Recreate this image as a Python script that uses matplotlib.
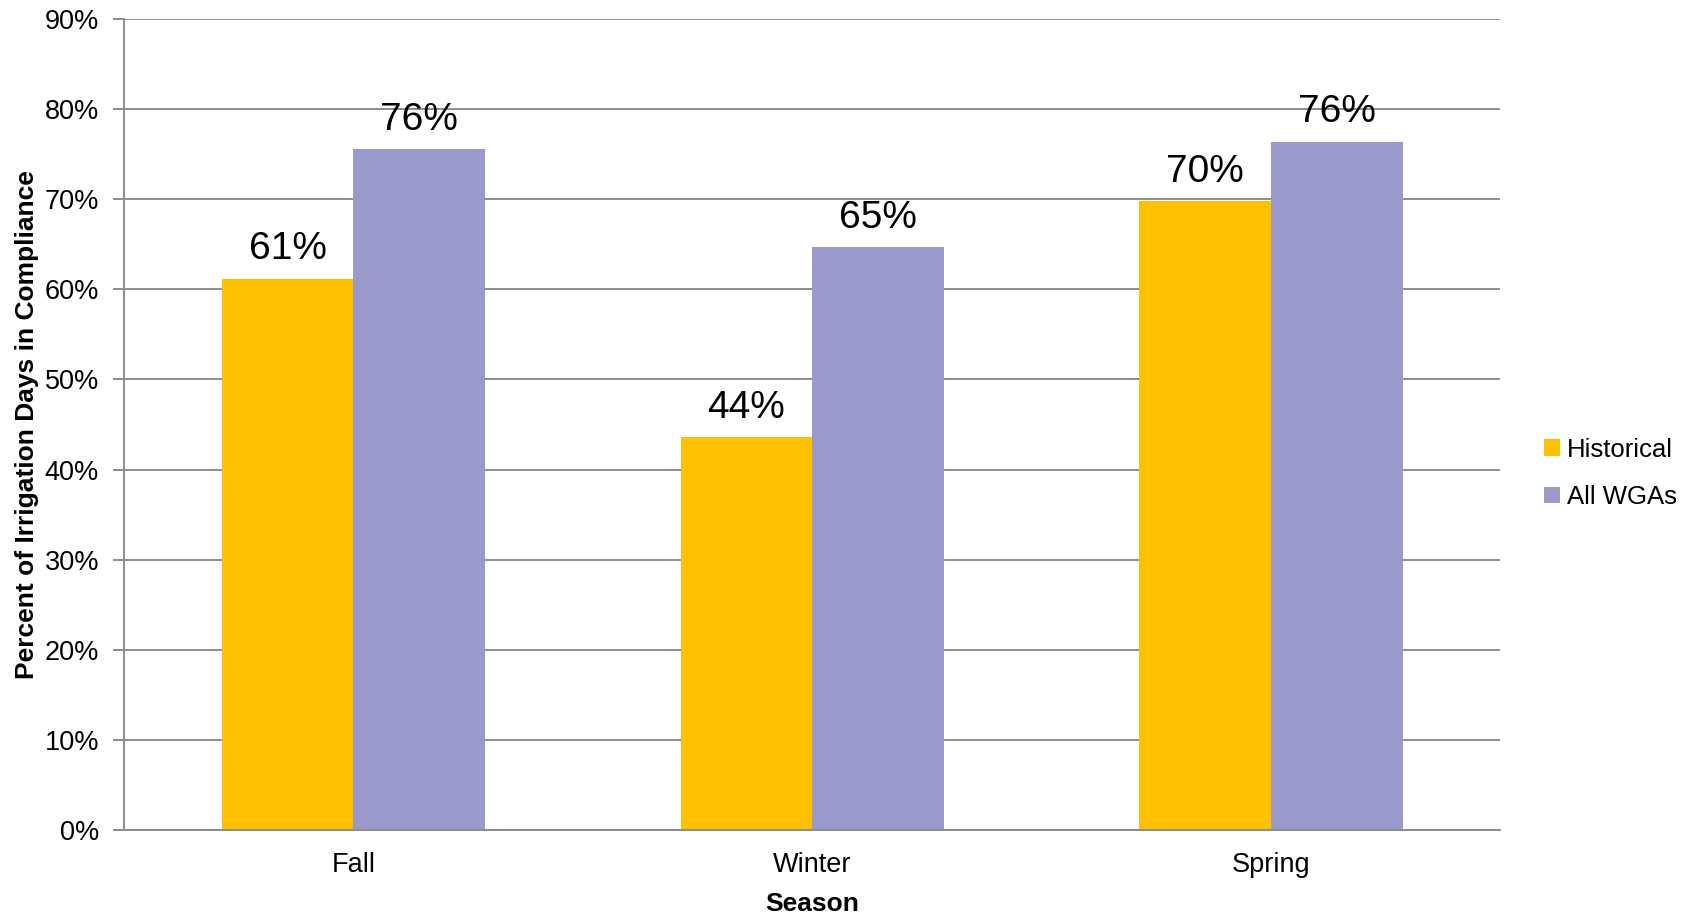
import matplotlib
matplotlib.use("Agg")
import matplotlib.pyplot as plt
import numpy as np
from matplotlib.ticker import FuncFormatter

plt.rcParams['font.family'] = ['Liberation Sans', 'DejaVu Sans']

seasons = ["Fall", "Winter", "Spring"]
historical = [61.2, 43.6, 69.8]
all_wgas = [75.6, 64.7, 76.4]
series_names = ["Historical", "All WGAs"]
colors = ["#FFC000", "#9999CC"]

fig = plt.figure(figsize=(16.92, 9.14), dpi=100)
ax = fig.add_axes([0.0733, 0.0919, 0.8135, 0.8873])

x = np.arange(len(seasons))
w = 0.287
grid_col = "#8C8C8C"

ax.set_axisbelow(True)
ax.yaxis.grid(True, color=grid_col, linewidth=1.4)

b1 = ax.bar(x - w / 2, historical, w, color=colors[0], label=series_names[0])
b2 = ax.bar(x + w / 2, all_wgas, w, color=colors[1], label=series_names[1])

for bars, vals in ((b1, historical), (b2, all_wgas)):
    ax.bar_label(bars, labels=[f"{round(v)}%" for v in vals], padding=8, fontsize=28)

ax.set_xlim(-0.5, 2.5)
ax.set_ylim(0, 90)
ax.set_yticks(np.arange(0, 91, 10))
ax.yaxis.set_major_formatter(FuncFormatter(lambda v, p: f"{int(v)}%"))
ax.set_xticks(x)
ax.set_xticklabels(seasons)

for s in ("top", "right"):
    ax.spines[s].set_visible(False)
for s in ("left", "bottom"):
    ax.spines[s].set_color(grid_col)
    ax.spines[s].set_linewidth(1.4)

ax.tick_params(axis="y", length=8, width=1.4, color=grid_col, labelsize=19.5, pad=10)
ax.tick_params(axis="x", length=0, labelsize=19.5, pad=16)

ax.set_xlabel("Season", fontsize=19, fontweight="bold", labelpad=10)
ax.set_ylabel("Percent of Irrigation Days in Compliance", fontsize=19, fontweight="bold", labelpad=4)

ax.legend(loc="center left", bbox_to_anchor=(1.015, 0.44), frameon=False, fontsize=18.5,
          handlelength=0.6, handleheight=0.6, handletextpad=0.3, labelspacing=0.9)

fig.savefig("out.png", dpi=100)
